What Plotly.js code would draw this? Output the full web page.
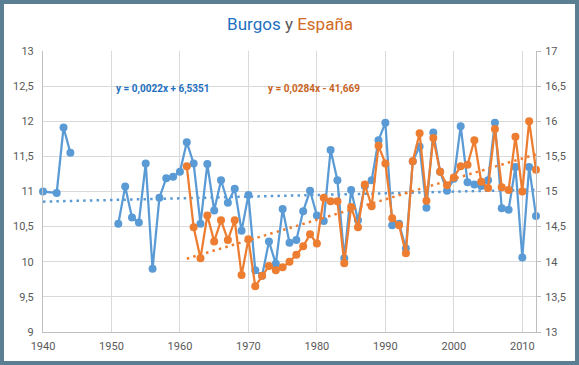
<!DOCTYPE html>
<html>
<head>
<meta charset="utf-8">
<script src="https://cdn.plot.ly/plotly-3.0.1.min.js"></script>
<style>
  html, body { margin: 0; padding: 0; background: #5a7e92; width: 579px; height: 365px; overflow: hidden; }
  #chart { position: absolute; left: 4px; top: 4px; width: 571px; height: 357px; background: #fff; }
</style>
</head>
<body>
<div id="chart"></div>
<script>
// ---- Data ----
const burgosYears = [1940,1942,1943,1944,1945,1946,1947,1948,1949,1950,
  1951,1952,1953,1954,1955,1956,1957,1958,1959,1960,
  1961,1962,1963,1964,1965,1966,1967,1968,1969,1970,
  1971,1972,1973,1974,1975,1976,1977,1978,1979,1980,
  1981,1982,1983,1984,1985,1986,1987,1988,1989,1990,
  1991,1992,1993,1994,1995,1996,1997,1998,1999,2000,
  2001,2002,2003,2004,2005,2006,2007,2008,2009,2010,
  2011,2012];
const burgosTemp = [11.00,10.98,11.91,11.55,null,null,null,null,null,null,
  10.54,11.07,10.63,10.56,11.40,9.90,10.91,11.19,11.21,11.28,
  11.70,11.40,10.54,11.39,10.73,11.16,10.84,11.04,10.44,10.95,
  9.88,9.80,10.29,9.97,10.75,10.27,10.31,10.72,11.01,10.66,
  10.58,11.59,11.16,10.05,11.02,10.59,11.08,11.16,11.73,11.98,
  10.52,10.54,10.19,11.43,11.64,10.77,11.84,11.28,11.01,11.18,
  11.93,11.13,11.10,11.08,11.16,11.98,10.76,10.74,11.35,10.06,
  11.35,10.65];
const espanaYears = [1961,1962,1963,1964,1965,1966,1967,1968,1969,1970,
  1971,1972,1973,1974,1975,1976,1977,1978,1979,1980,
  1981,1982,1983,1984,1985,1986,1987,1988,1989,1990,
  1991,1992,1993,1994,1995,1996,1997,1998,1999,2000,
  2001,2002,2003,2004,2005,2006,2007,2008,2009,2010,
  2011,2012];
const espanaTemp = [15.36,14.49,14.05,14.66,14.29,14.59,14.31,14.59,13.81,14.32,
  13.65,13.80,13.94,13.88,13.92,14.00,14.10,14.22,14.39,14.26,
  14.91,14.86,14.86,13.98,14.78,14.49,15.10,14.79,15.65,15.40,
  14.62,14.52,14.12,15.43,15.83,14.87,15.76,15.28,15.09,15.20,
  15.36,15.38,15.73,15.14,15.05,15.89,15.06,15.02,15.78,15.00,
  16.00,15.31];
const xTicks = [1940,1950,1960,1970,1980,1990,2000,2010];
const leftTicks = [9,9.5,10,10.5,11,11.5,12,12.5,13];
const leftTickText = ['9','9,5','10','10,5','11','11,5','12','12,5','13'];
const rightTicks = [13,13.5,14,14.5,15,15.5,16,16.5,17];
const rightTickText = ['13','13,5','14','14,5','15','15,5','16','16,5','17'];
const burgosEq = 'y = 0,0022x + 6,5351';
const espanaEq = 'y = 0,0284x - 41,669';

// linear regression (trendline) computed from the series
function linreg(xs, ys) {
  let n=0,sx=0,sy=0,sxx=0,sxy=0;
  for (let i=0;i<xs.length;i++){ if (ys[i]==null) continue; n++; sx+=xs[i]; sy+=ys[i]; sxx+=xs[i]*xs[i]; sxy+=xs[i]*ys[i]; }
  const b=(n*sxy-sx*sy)/(n*sxx-sx*sx); const a=(sy-b*sx)/n;
  const valid = xs.filter((x,i)=>ys[i]!=null);
  const x0=Math.min(...valid), x1=Math.max(...valid);
  return {x:[x0,x1], y:[a+b*x0, a+b*x1]};
}
const tb = linreg(burgosYears, burgosTemp);
const te = linreg(espanaYears, espanaTemp);

const BLUE='#5b9bd5', ORANGE='#ed7d31';
const traces = [
  {x: burgosYears, y: burgosTemp, type:'scatter', mode:'lines+markers', name:'Burgos', cliponaxis:false,
   line:{color:BLUE, width:2.25}, marker:{color:BLUE, size:8}, connectgaps:false},
  {x: espanaYears, y: espanaTemp, type:'scatter', mode:'lines+markers', name:'España', yaxis:'y2', cliponaxis:false,
   line:{color:ORANGE, width:2.25}, marker:{color:ORANGE, size:8}},
  {x: tb.x, y: tb.y, type:'scatter', mode:'lines', line:{color:BLUE, width:2.5, dash:'2.5px,4.2px'}},
  {x: te.x, y: te.y, type:'scatter', mode:'lines', yaxis:'y2', line:{color:ORANGE, width:2.5, dash:'2.5px,4.2px'}}
];

const FONT = 'Roboto, "Liberation Sans", sans-serif';
const layout = {
  width: 571, height: 357,
  margin: {l: 39.3, r: 39, t: 46.8, b: 29.2, pad: 0},
  paper_bgcolor: '#ffffff', plot_bgcolor: '#ffffff',
  showlegend: false,
  font: {family: FONT, size: 11, color: '#595959'},
  title: {
    text: '<span style="color:#1f70c0">Burgos</span> <span style="color:#595959">y</span> <span style="color:#d06a22">España</span>',
    font: {family: FONT, size: 17}, x: 0.501, xref: 'container', xanchor: 'center',
    y: 0.944, yref: 'container', yanchor: 'middle'
  },
  xaxis: {
    range: [1940, 2012], tickvals: xTicks, ticktext: xTicks.map(String),
    showgrid: true, gridcolor: '#d9d9d9', gridwidth: 1,
    showline: true, linecolor: '#bfbfbf', linewidth: 1,
    ticks: '', zeroline: false, ticklabelstandoff: 4
  },
  yaxis: {
    range: [9, 13], tickvals: leftTicks, ticktext: leftTickText,
    showgrid: true, gridcolor: '#d9d9d9', gridwidth: 1,
    showline: true, linecolor: '#bfbfbf', linewidth: 1,
    ticks: '', zeroline: false, ticklabelstandoff: 6
  },
  yaxis2: {
    range: [13, 17], tickvals: rightTicks, ticktext: rightTickText,
    overlaying: 'y', side: 'right', showgrid: false,
    showline: true, linecolor: '#bfbfbf', linewidth: 1,
    ticks: 'outside', ticklen: 4, tickcolor: '#bfbfbf', zeroline: false, ticklabelstandoff: 2
  },
  annotations: [
    {text: '<b>' + burgosEq + '</b>', xref: 'paper', yref: 'paper', x: 0.1435, y: 0.863,
     xanchor: 'left', yanchor: 'middle', showarrow: false, font: {family: FONT, size: 10, color: '#1f70c0'}},
    {text: '<b>' + espanaEq + '</b>', xref: 'paper', yref: 'paper', x: 0.452, y: 0.863,
     xanchor: 'left', yanchor: 'middle', showarrow: false, font: {family: FONT, size: 10, color: '#c9651f'}}
  ]
};
Plotly.newPlot('chart', traces, layout, {staticPlot: true, displayModeBar: false});
</script>
</body>
</html>
